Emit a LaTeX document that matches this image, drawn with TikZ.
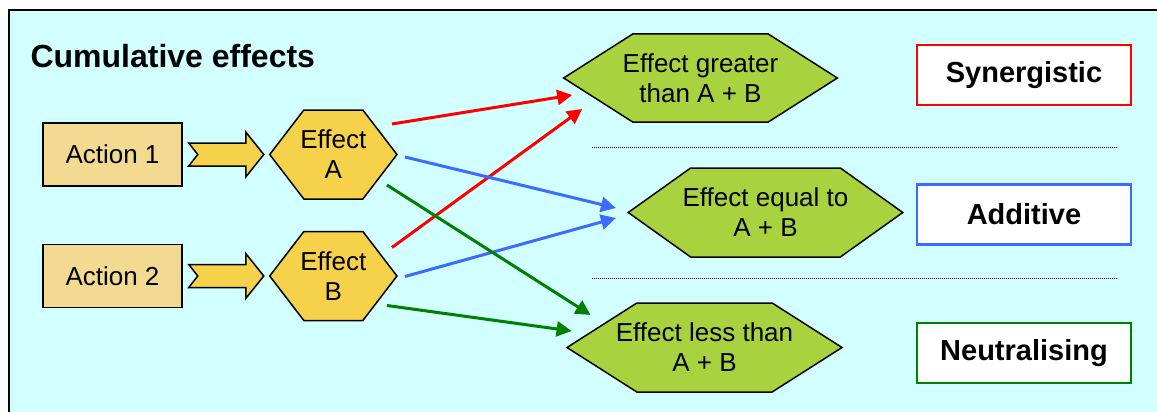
\documentclass[tikz,border=0pt]{standalone}
\usepackage{fontspec}
\setmainfont{Liberation Sans}
\usetikzlibrary{arrows.meta,positioning,calc,shapes.symbols}
\definecolor{bgcyan}{HTML}{D2FFFF}
\definecolor{actfill}{HTML}{F2DA90}
\definecolor{efffill}{HTML}{F6D24A}
\definecolor{resfill}{HTML}{A8D23E}
\definecolor{addblue}{HTML}{3D6BFF}
\definecolor{neutgreen}{HTML}{008000}
\tikzset{
  actbox/.style={draw,line width=1.5pt,fill=actfill,minimum width=139pt,minimum height=63pt,inner sep=0pt},
  effhex/.style={signal,signal to=west and east,signal pointer angle=105,draw,line width=1.5pt,fill=efffill,
                 minimum height=89pt,inner ysep=0pt,inner xsep=-3.5pt,align=center},
  reshex/.style={signal,signal to=west and east,signal pointer angle=65,draw,line width=1.5pt,fill=resfill,
                 minimum height=88pt,inner ysep=0pt,align=center},
  kind/.style={draw,line width=2.5pt,fill=white,minimum width=214pt,minimum height=60pt,inner sep=0pt,
               font=\fontsize{29}{32}\selectfont\bfseries},
  notch/.style={draw,line width=1.5pt,fill=efffill,line join=miter},
  link/.style={line width=3pt,-{Triangle[length=15pt,width=15pt]}},
  sep/.style={densely dotted,line width=1pt},
}
\begin{document}
\begin{tikzpicture}[x=1pt,y=-1pt,font=\fontsize{26}{30}\selectfont]
  \useasboundingbox (0,0) rectangle (1157,412);
  \fill[bgcyan] (9,10) rectangle (1157,412);
  \draw[line width=2pt] (9,412) -- (9,10) -- (1157,10);

  \node[anchor=base west,font=\fontsize{32}{35}\selectfont\bfseries] (title) at (27,67) {Cumulative effects};

  % actions and their effects
  \node[actbox] (act1) at (112.5,154.5) {Action 1};
  \node[actbox,below=57pt of act1] (act2) {Action 2};
  \node[effhex,right=86pt of act1] (effA) {Effect\\A};
  \node[effhex,right=86pt of act2] (effB) {Effect\\B};

  \foreach \a/\e in {act1/effA,act2/effB}
    \draw[notch] ([xshift=6pt]\a.east) ++(0,-11.5) -- ++(57,0) -- ++(0,-11) -- ++(18,22.5)
      -- ++(-18,22.5) -- ++(0,-11) -- ++(-57,0) -- ++(9,-11.5) -- cycle;

  % combined results
  \node[reshex,inner xsep=-10pt] (greater) at (700.5,78) {Effect greater\\than A + B};
  \node[reshex,signal pointer angle=71,minimum height=89pt,inner xsep=-8pt] (equal) at (765.5,212.5) {Effect equal to\\A + B};
  \node[reshex,minimum height=89pt,inner xsep=-21pt] (less) at (704.5,347.5) {Effect less than\\A + B};

  \node[kind,draw=red] (syn) at (1024,75) {Synergistic};
  \node[kind,draw=addblue,below=77pt of syn] (add) {Additive};
  \node[kind,draw=neutgreen,below=76pt of add] (neut) {Neutralising};

  \coordinate (s1a) at (592,147);
  \coordinate (s1b) at (1118,147);
  \coordinate (s2a) at (592,278);
  \coordinate (s2b) at (1118,278);
  \draw[sep] (s1a) -- (s1b);
  \draw[sep] (s2a) -- (s2b);

  % links
  \draw[link,red] ([xshift=-6pt,yshift=30.5pt]effA.east) -- ([xshift=10pt,yshift=-17pt]greater.west);
  \draw[link,red] ([xshift=-6pt,yshift=28.5pt]effB.east) -- ([xshift=20pt,yshift=-31pt]greater.west);
  \draw[link,addblue] ([xshift=7pt,yshift=-2.5pt]effA.east) -- ([xshift=-11pt,yshift=4.5pt]equal.west);
  \draw[link,addblue] ([xshift=7pt,yshift=-0.5pt]effB.east) -- ([xshift=-11pt,yshift=-5.5pt]equal.west);
  \draw[link,neutgreen] ([xshift=-11pt,yshift=-30.5pt]effA.east) -- ([xshift=25pt,yshift=32.5pt]less.west);
  \draw[link,neutgreen] ([xshift=-11pt,yshift=-29.5pt]effB.east) -- ([xshift=6pt,yshift=16.5pt]less.west);
\end{tikzpicture}
\end{document}
